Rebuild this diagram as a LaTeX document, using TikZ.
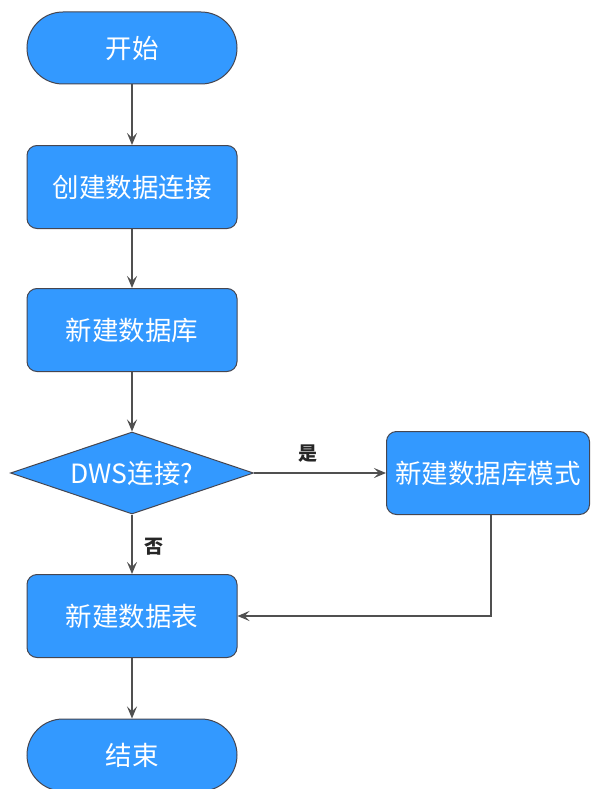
\documentclass[tikz,border=0pt]{standalone}
\usepackage{fontspec}
\setmainfont{Noto Sans CJK SC}
\usetikzlibrary{shapes.geometric,arrows.meta}
\definecolor{boxblue}{RGB}{51,153,255}
\definecolor{edgegray}{RGB}{70,70,80}
\definecolor{linegray}{RGB}{80,80,80}
\begin{document}
\begin{tikzpicture}[x=1pt,y=-1pt,
  base/.style={draw=edgegray,line width=1pt,fill=boxblue,text=white,font=\fontsize{26.5}{30}\selectfont,inner sep=0pt},
  terminal/.style={base,rectangle,rounded corners=36pt,minimum width=210pt,minimum height=72pt},
  process/.style={base,rectangle,rounded corners=10pt,minimum width=210pt,minimum height=83pt},
  decision/.style={base,diamond,aspect=2.95,minimum width=243pt,minimum height=82pt},
  conn/.style={draw=linegray,line width=1.4pt,-{Stealth[length=12pt,width=10pt,inset=5pt]}},
  lbl/.style={font=\fontsize{19}{22}\selectfont\bfseries,text=black!85}]
\useasboundingbox (0,0) rectangle (590,789);
\fill[white] (0,0) rectangle (590,789);
\node[terminal] (start) at (132,48) {开始};
\node[process] (conn1) at (132,187) {创建数据连接};
\node[process] (db) at (132,330) {新建数据库};
\node[decision] (dws) at (132,473) {DWS连接?};
\node[base,rectangle,rounded corners=10pt,minimum width=203pt,minimum height=83pt] (schema) at (488,473) {新建数据库模式};
\node[process] (tbl) at (132,616) {新建数据表};
\node[terminal] (end) at (132,755) {结束};
\draw[conn] (start) -- (conn1);
\draw[conn] (conn1) -- (db);
\draw[conn] (db) -- (dws);
\draw[conn] (dws.east) -- (schema.west) node[lbl,midway,above=7pt,xshift=-12pt] (yes) {是};
\draw[conn] (dws.south) -- (tbl.north) node[lbl,midway,right=8pt,yshift=-2pt] (no) {否};
\draw[conn] (schema.south -| 491,0) |- (tbl.east);
\draw[conn] (tbl) -- (end);
\end{tikzpicture}
\end{document}
